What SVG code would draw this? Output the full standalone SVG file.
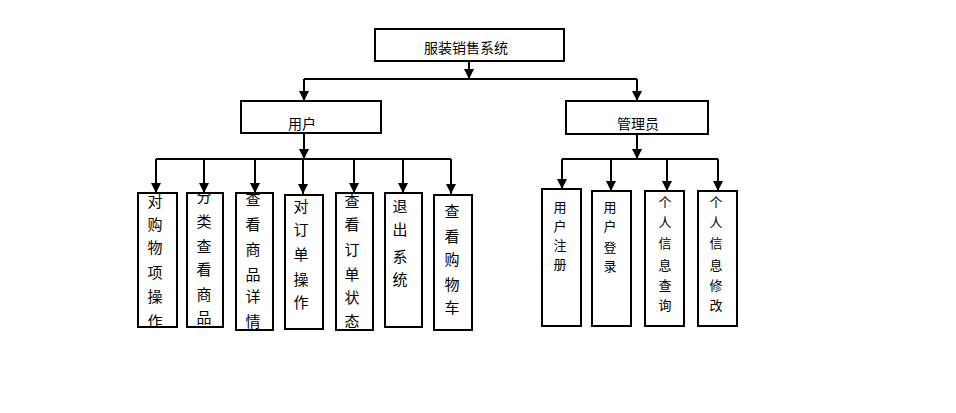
<svg xmlns="http://www.w3.org/2000/svg" width="956" height="413" viewBox="0 0 956 413">
<style>
.box{fill:#fff;stroke:#000;stroke-width:2}
.ln{fill:none;stroke:#000;stroke-width:2}
.arr{marker-end:url(#ah)}
text{font-family:"Noto Sans CJK SC","Noto Sans",sans-serif;fill:#000;text-anchor:middle}
.t1{font-size:14px}
.tl{font-size:15px}
.tr{font-size:13px}
</style>
<defs>
<marker id="ah" markerUnits="userSpaceOnUse" markerWidth="10" markerHeight="10" viewBox="0 0 10 10" refX="10" refY="5" orient="auto">
<path d="M0,0 L10,5 L0,10 Z" fill="#000"/>
</marker>
<clipPath id="c1"><rect x="139" y="194" width="37" height="132"/></clipPath>
<clipPath id="c2"><rect x="188" y="194" width="34" height="132"/></clipPath>
<clipPath id="c3"><rect x="237" y="194" width="35" height="135"/></clipPath>
<clipPath id="c5"><rect x="337" y="194" width="35" height="135"/></clipPath>
</defs>
<g id="connectors">
<path class="ln arr" d="M469,61 V79"/>
<path class="ln" d="M304,79 H637"/>
<path class="ln arr" d="M304,79 V101"/>
<path class="ln arr" d="M637,79 V101"/>
<path class="ln arr" d="M304,133 V159"/>
<path class="ln" d="M156,159 H451"/>
<path class="ln arr" d="M156,159 V193"/>
<path class="ln arr" d="M204,159 V193"/>
<path class="ln arr" d="M255,159 V193"/>
<path class="ln arr" d="M303,159 V194"/>
<path class="ln arr" d="M354,159 V193"/>
<path class="ln arr" d="M403,159 V193"/>
<path class="ln arr" d="M451,159 V194"/>
<path class="ln arr" d="M637,134 V159"/>
<path class="ln" d="M562,159 H718"/>
<path class="ln arr" d="M562,159 V189"/>
<path class="ln arr" d="M611,159 V191"/>
<path class="ln arr" d="M667,159 V191"/>
<path class="ln arr" d="M718,159 V191"/>
</g>
<g id="root"><rect class="box" x="375" y="29" width="189" height="32"/><text class="t1" x="466" y="53">服装销售系统</text></g>
<g id="user"><rect class="box" x="241" y="101" width="140" height="32"/><text class="t1" x="302" y="129">用户</text></g>
<g id="admin"><rect class="box" x="566" y="101" width="142" height="33"/><text class="t1" x="638" y="129">管理员</text></g>
<g id="u1"><rect class="box" x="138" y="193" width="39" height="134"/>
<text class="tl" clip-path="url(#c1)"><tspan x="155" y="207">对</tspan><tspan x="155" y="230">购</tspan><tspan x="155" y="253">物</tspan><tspan x="155" y="278">项</tspan><tspan x="155" y="302">操</tspan><tspan x="155" y="327">作</tspan></text></g>
<g id="u2"><rect class="box" x="187" y="193" width="36" height="134"/>
<text class="tl" clip-path="url(#c2)"><tspan x="204" y="202">分</tspan><tspan x="204" y="227">类</tspan><tspan x="204" y="252">查</tspan><tspan x="204" y="275">看</tspan><tspan x="204" y="300">商</tspan><tspan x="204" y="323">品</tspan></text></g>
<g id="u3"><rect class="box" x="236" y="193" width="37" height="137"/>
<text class="tl" clip-path="url(#c3)"><tspan x="253" y="205">查</tspan><tspan x="253" y="230">看</tspan><tspan x="253" y="255">商</tspan><tspan x="253" y="280">品</tspan><tspan x="253" y="302">详</tspan><tspan x="253" y="327">情</tspan></text></g>
<g id="u4"><rect class="box" x="285" y="195" width="38" height="134"/>
<text class="tl"><tspan x="301" y="212">对</tspan><tspan x="301" y="235">订</tspan><tspan x="301" y="260">单</tspan><tspan x="301" y="285">操</tspan><tspan x="301" y="308">作</tspan></text></g>
<g id="u5"><rect class="box" x="336" y="193" width="37" height="137"/>
<text class="tl" clip-path="url(#c5)"><tspan x="352" y="207">查</tspan><tspan x="352" y="230">看</tspan><tspan x="352" y="255">订</tspan><tspan x="352" y="280">单</tspan><tspan x="352" y="303">状</tspan><tspan x="352" y="327">态</tspan></text></g>
<g id="u6"><rect class="box" x="385" y="193" width="37" height="134"/>
<text class="tl"><tspan x="400" y="212">退</tspan><tspan x="400" y="235">出</tspan><tspan x="400" y="262">系</tspan><tspan x="400" y="285">统</tspan></text></g>
<g id="u7"><rect class="box" x="434" y="195" width="38" height="135"/>
<text class="tl"><tspan x="452" y="217">查</tspan><tspan x="452" y="242">看</tspan><tspan x="452" y="265">购</tspan><tspan x="452" y="290">物</tspan><tspan x="452" y="313">车</tspan></text></g>
<g id="a1"><rect class="box" x="542" y="189" width="39" height="137"/>
<text class="tr"><tspan x="560" y="212">用</tspan><tspan x="560" y="231">户</tspan><tspan x="560" y="250">注</tspan><tspan x="560" y="269">册</tspan></text></g>
<g id="a2"><rect class="box" x="592" y="191" width="39" height="135"/>
<text class="tr"><tspan x="610" y="212">用</tspan><tspan x="610" y="231">户</tspan><tspan x="610" y="252">登</tspan><tspan x="610" y="271">录</tspan></text></g>
<g id="a3"><rect class="box" x="645" y="191" width="39" height="135"/>
<text class="tr"><tspan x="665" y="207">个</tspan><tspan x="665" y="227">人</tspan><tspan x="665" y="248">信</tspan><tspan x="665" y="270">息</tspan><tspan x="665" y="290">查</tspan><tspan x="665" y="310">询</tspan></text></g>
<g id="a4"><rect class="box" x="698" y="191" width="39" height="135"/>
<text class="tr"><tspan x="716" y="207">个</tspan><tspan x="716" y="227">人</tspan><tspan x="716" y="248">信</tspan><tspan x="716" y="270">息</tspan><tspan x="716" y="290">修</tspan><tspan x="716" y="310">改</tspan></text></g>
</svg>
